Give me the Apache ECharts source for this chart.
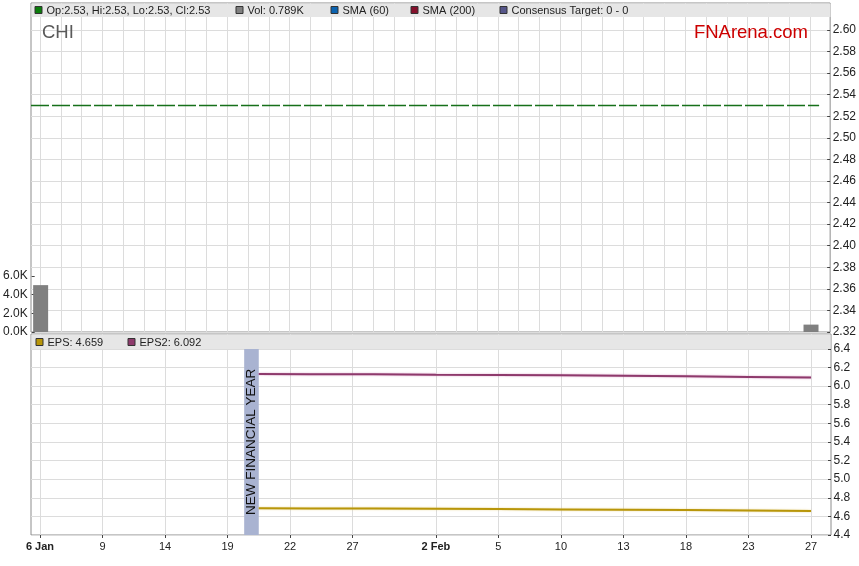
<!DOCTYPE html>
<html><head><meta charset="utf-8">
<script src="https://cdn.jsdelivr.net/npm/echarts@6/dist/echarts.min.js"></script>
<style>html,body{margin:0;padding:0;background:#fff}#c{width:859px;height:566px}</style>
</head><body><div id="c"></div>
<script>
// ---- data ----
const tickIndex = [0, 3, 6, 9, 12, 15, 19, 22, 25, 28, 31, 34, 37];
const tickLabels = ['6 Jan', '9', '14', '19', '22', '27', '2 Feb', '5', '10', '13', '18', '23', '27'];
const boldLabels = ['6 Jan', '2 Feb'];
const slotCount = 38;
const priceX = [-0.43, 37.43];
const priceY = [2.53, 2.53];
const volX = [0, 37];
const volY = [5000, 789];
const epsX = [10.5, 13, 16, 19, 22, 25, 28, 31, 34, 37];
const epsY = [4.688, 4.686, 4.684, 4.682, 4.679, 4.675, 4.671, 4.668, 4.663, 4.659];
const eps2Y = [6.131, 6.128, 6.127, 6.123, 6.120, 6.116, 6.112, 6.107, 6.099, 6.092];
const nfyRange = [9.8, 10.5];
const priceTicks = [2.32, 2.34, 2.36, 2.38, 2.40, 2.42, 2.44, 2.46, 2.48, 2.50, 2.52, 2.54, 2.56, 2.58, 2.60];
const volTicks = [0, 2000, 4000, 6000];
const epsTicks = [4.4, 4.6, 4.8, 5.0, 5.2, 5.4, 5.6, 5.8, 6.0, 6.2, 6.4];
const topLegend = [
  {text: 'Op:2.53, Hi:2.53, Lo:2.53, Cl:2.53', color: '#0b7d0b'},
  {text: 'Vol: 0.789K', color: '#808080'},
  {text: 'SMA (60)', color: '#0b63b0'},
  {text: 'SMA (200)', color: '#85102c'},
  {text: 'Consensus Target: 0 - 0', color: '#56568a'}
];
const bottomLegend = [
  {text: 'EPS: 4.659', color: '#b8960a'},
  {text: 'EPS2: 6.092', color: '#8e3a6c'}
];

// ---- layout / style ----
const FONT = '"Liberation Sans", Arial, sans-serif';
const L = 31, R = 28;
const XMIN = -0.43, XMAX = 37.96;
const gridColor = '#dcdcdc';
const slots = Array.from({length: slotCount}, (_, i) => i);
const zip = (xs, ys) => xs.map((x, i) => [x, ys[i]]);

function xAxisBase(gi, showLabels) {
  return {
    type: 'value', gridIndex: gi, min: XMIN, max: XMAX,
    axisLine: {show: false, onZero: false},
    axisTick: {show: showLabels, customValues: showLabels ? tickIndex : slots, length: 3, lineStyle: {color: '#444'}},
    splitLine: {show: gi !== 1, lineStyle: {color: gridColor}},
    axisLabel: {
      show: showLabels, customValues: tickIndex, margin: 6, fontSize: 11, color: '#222', fontFamily: FONT,
      formatter: v => {
        const lab = tickLabels[tickIndex.indexOf(Math.round(v))] || '';
        return boldLabels.includes(lab) ? '{b|' + lab + '}' : lab;
      },
      rich: {b: {fontWeight: 'bold', fontSize: 11, color: '#222', fontFamily: FONT}}
    }
  };
}

const legendGraphics = [];
const topLegendX = [35, 236, 331, 411, 500];
topLegend.forEach((it, i) => {
  legendGraphics.push({type: 'rect', shape: {x: topLegendX[i], y: 6.5, width: 7, height: 7}, style: {fill: it.color, stroke: '#333', lineWidth: 1}, z: 20});
  legendGraphics.push({type: 'text', x: topLegendX[i] + 11.5, y: 10.5, style: {text: it.text, fontSize: 11, fontFamily: FONT, fill: '#222', textVerticalAlign: 'middle'}, z: 20});
});
const botLegendX = [36, 128];
bottomLegend.forEach((it, i) => {
  legendGraphics.push({type: 'rect', shape: {x: botLegendX[i], y: 338.5, width: 7, height: 7}, style: {fill: it.color, stroke: '#333', lineWidth: 1}, z: 20});
  legendGraphics.push({type: 'text', x: botLegendX[i] + 11.5, y: 342.5, style: {text: it.text, fontSize: 11, fontFamily: FONT, fill: '#222', textVerticalAlign: 'middle'}, z: 20});
});

const yTick = ticks => ({show: true, inside: true, customValues: ticks, length: 3, lineStyle: {color: '#444'}});

const chart = echarts.init(document.getElementById('c'));
chart.setOption({
  animation: false,
  backgroundColor: '#fff',
  textStyle: {fontFamily: FONT},
  grid: [
    {left: L, right: R, top: 3, height: 329, show: true, borderColor: '#8c8c8c', borderWidth: 1, backgroundColor: 'transparent'},
    {left: L, right: R, top: 266, height: 66},
    {left: L, right: R, top: 334, height: 201, show: true, borderColor: '#8c8c8c', borderWidth: 1, backgroundColor: 'transparent'}
  ],
  xAxis: [xAxisBase(0, false), Object.assign(xAxisBase(1, false), {show: false}), xAxisBase(2, true)],
  yAxis: [
    {
      type: 'value', gridIndex: 0, position: 'right', min: 2.32, max: 2.625, interval: 0.02,
      axisLine: {show: false, onZero: false},
      axisTick: yTick(priceTicks),
      splitLine: {show: true, lineStyle: {color: gridColor}},
      axisLabel: {customValues: priceTicks, formatter: v => v.toFixed(2), margin: 2.5, fontSize: 12, color: '#222', fontFamily: FONT}
    },
    {
      type: 'value', gridIndex: 1, position: 'left', min: 0, max: 7040,
      axisLine: {show: false, onZero: false},
      axisTick: yTick(volTicks),
      splitLine: {show: false},
      axisLabel: {customValues: volTicks, formatter: v => (v / 1000).toFixed(1) + 'K', margin: 4, fontSize: 12, color: '#222', fontFamily: FONT}
    },
    {
      type: 'value', gridIndex: 2, position: 'right', min: 4.4, max: 6.56, interval: 0.2,
      axisLine: {show: false, onZero: false},
      axisTick: yTick(epsTicks),
      splitLine: {show: true, lineStyle: {color: gridColor}},
      axisLabel: {customValues: epsTicks, formatter: v => v.toFixed(1), margin: 2.5, fontSize: 12, color: '#222', fontFamily: FONT}
    }
  ],
  series: [
    {
      type: 'line', xAxisIndex: 0, yAxisIndex: 0, data: zip(priceX, priceY), symbol: 'none',
      lineStyle: {color: '#16701a', width: 1.5, type: [18, 3]}, z: 3
    },
    {
      type: 'bar', xAxisIndex: 1, yAxisIndex: 1, data: zip(volX, volY), barWidth: 15,
      itemStyle: {color: '#808080'}, z: 3
    },
    {
      type: 'line', xAxisIndex: 2, yAxisIndex: 2, data: zip(epsX, eps2Y), symbol: 'none',
      lineStyle: {color: '#8e3a6c', width: 2, shadowColor: 'rgba(200,110,170,0.6)', shadowBlur: 2}, z: 4
    },
    {
      type: 'line', xAxisIndex: 2, yAxisIndex: 2, data: zip(epsX, epsY), symbol: 'none',
      lineStyle: {color: '#b8960a', width: 2, shadowColor: 'rgba(220,190,80,0.6)', shadowBlur: 2}, z: 4,
      markArea: {
        silent: true,
        itemStyle: {color: '#a9b3d1'},
        label: {show: true, position: 'inside', rotate: 90, color: '#111', fontSize: 13.5, fontFamily: FONT},
        data: [[{name: 'NEW FINANCIAL YEAR', xAxis: nfyRange[0], yAxis: 4.4}, {xAxis: nfyRange[1], yAxis: 6.4}]]
      }
    }
  ],
  graphic: [
    {type: 'rect', shape: {x: L + 0.5, y: 3.5, width: 799, height: 13.5}, style: {fill: '#e6e6e6'}, z: 15},
    {type: 'rect', shape: {x: L + 0.5, y: 334.5, width: 799, height: 14.5}, style: {fill: '#e6e6e6'}, z: 15},
    {type: 'text', x: 42, y: 33, style: {text: 'CHI', fontSize: 18.5, fontFamily: FONT, fill: '#5a5a5a', textVerticalAlign: 'middle'}, z: 20},
    {type: 'text', x: 808, y: 33, style: {text: 'FNArena.com', fontSize: 18.5, fontFamily: FONT, fill: '#cc0000', textAlign: 'right', textVerticalAlign: 'middle'}, z: 20}
  ].concat(legendGraphics)
});
</script>
</body></html>
